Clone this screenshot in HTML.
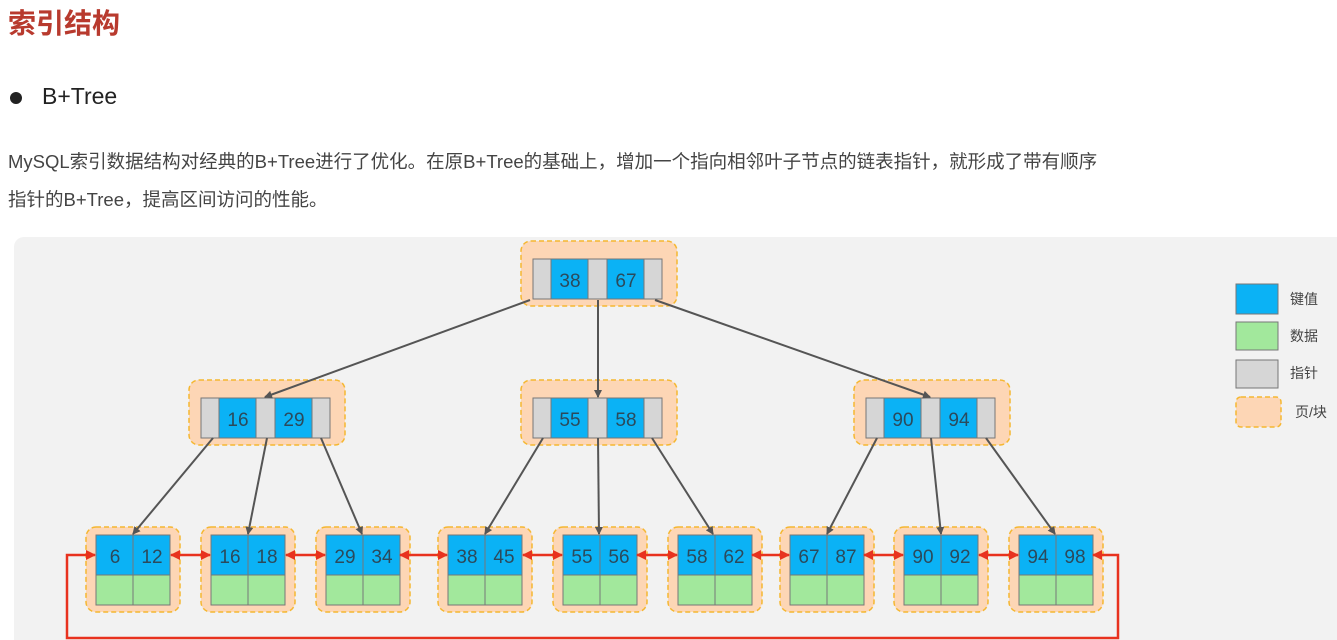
<!DOCTYPE html>
<html><head><meta charset="utf-8"><style>
body{margin:0;width:1337px;height:640px;overflow:hidden;background:#fff;font-family:"Liberation Sans","Noto Sans CJK SC",sans-serif;position:relative}
.t{position:absolute;left:8px;top:2px;font-size:28px;font-weight:bold;color:#b83a2e;}
.b{position:absolute;left:10px;top:92px;width:12px;height:12px;border-radius:50%;background:#222}
.bt{position:absolute;left:42px;top:83px;font-size:23px;color:#222}
.p{position:absolute;left:8px;top:143px;font-size:18.5px;color:#444;line-height:38px;width:1320px}
svg{position:absolute;left:0;top:0}
</style></head><body>
<div class="t">索引结构</div>
<div class="b"></div><div class="bt">B+Tree</div>
<div class="p">MySQL索引数据结构对经典的B+Tree进行了优化。在原B+Tree的基础上，增加一个指向相邻叶子节点的链表指针，就形成了带有顺序<br>指针的B+Tree，提高区间访问的性能。</div>
<svg width="1337" height="640" font-family="Liberation Sans, sans-serif">
<defs>
<marker id="ga" markerWidth="8" markerHeight="8" refX="7" refY="4" orient="auto" markerUnits="userSpaceOnUse"><path d="M0,0 L8,4 L0,8 z" fill="#555"/></marker>
<marker id="ra" markerWidth="10" markerHeight="10" refX="9" refY="5" orient="auto-start-reverse" markerUnits="userSpaceOnUse"><path d="M0,0 L10,5 L0,10 z" fill="#e8321e"/></marker>
<g id="inner"><rect x="-12" y="-18" width="156" height="65" rx="10" fill="#fdd6b5" stroke="#f5b731" stroke-width="1.5" stroke-dasharray="5,3"/>
<rect x="0" y="0" width="18" height="40" fill="#d6d6d6" stroke="#777"/><rect x="18" y="0" width="37" height="40" fill="#0bb2f5" stroke="#777"/><rect x="55" y="0" width="19" height="40" fill="#d6d6d6" stroke="#777"/><rect x="74" y="0" width="37" height="40" fill="#0bb2f5" stroke="#777"/><rect x="111" y="0" width="18" height="40" fill="#d6d6d6" stroke="#777"/></g>
<g id="leaf"><rect x="-10" y="-8" width="94" height="85" rx="10" fill="#fdd6b5" stroke="#f5b731" stroke-width="1.5" stroke-dasharray="5,3"/>
<rect x="0" y="0" width="37" height="40" fill="#0bb2f5" stroke="#777"/><rect x="37" y="0" width="37" height="40" fill="#0bb2f5" stroke="#777"/><rect x="0" y="40" width="37" height="30" fill="#a2e89c" stroke="#777"/><rect x="37" y="40" width="37" height="30" fill="#a2e89c" stroke="#777"/></g>
</defs>
<rect x="14" y="237" width="1340" height="420" rx="10" fill="#f2f2f2"/>
<use href="#inner" x="533" y="259"/>
<use href="#inner" x="201" y="398"/>
<use href="#inner" x="533" y="398"/>
<use href="#inner" x="866" y="398"/>
<use href="#leaf" x="96" y="535"/><use href="#leaf" x="211" y="535"/><use href="#leaf" x="326" y="535"/><use href="#leaf" x="448" y="535"/><use href="#leaf" x="563" y="535"/><use href="#leaf" x="678" y="535"/><use href="#leaf" x="790" y="535"/><use href="#leaf" x="904" y="535"/><use href="#leaf" x="1019" y="535"/>
<g stroke="#555" stroke-width="2" marker-end="url(#ga)">
<line x1="530" y1="300" x2="265" y2="397"/><line x1="598" y1="300" x2="598" y2="397"/><line x1="655" y1="300" x2="930" y2="397"/>
<line x1="213" y1="438" x2="133" y2="534"/><line x1="267" y1="438" x2="248" y2="534"/><line x1="321" y1="438" x2="362" y2="534"/>
<line x1="543" y1="438" x2="485" y2="534"/><line x1="598" y1="438" x2="599" y2="534"/><line x1="652" y1="438" x2="713" y2="534"/>
<line x1="877" y1="438" x2="827" y2="534"/><line x1="931" y1="438" x2="941" y2="534"/><line x1="986" y1="438" x2="1055" y2="534"/>
</g>
<g stroke="#e8321e" stroke-width="2.5" marker-end="url(#ra)" marker-start="url(#ra)">
<line x1="171" y1="555" x2="210" y2="555"/><line x1="286" y1="555" x2="325" y2="555"/><line x1="400" y1="555" x2="447" y2="555"/><line x1="523" y1="555" x2="562" y2="555"/><line x1="637" y1="555" x2="677" y2="555"/><line x1="752" y1="555" x2="789" y2="555"/><line x1="864" y1="555" x2="903" y2="555"/><line x1="979" y1="555" x2="1018" y2="555"/>
</g>
<polyline points="1093,555 1118,555 1118,638 67,638 67,555 95,555" fill="none" stroke="#e8321e" stroke-width="2.5" marker-end="url(#ra)" marker-start="url(#ra)"/>
<g font-size="19" fill="#2b4a5c" text-anchor="middle">
<text x="570" y="287">38</text><text x="626" y="287">67</text>
<text x="238" y="426">16</text><text x="294" y="426">29</text>
<text x="570" y="426">55</text><text x="626" y="426">58</text>
<text x="903" y="426">90</text><text x="959" y="426">94</text>
<text x="115" y="563">6</text><text x="152" y="563">12</text>
<text x="230" y="563">16</text><text x="267" y="563">18</text>
<text x="345" y="563">29</text><text x="382" y="563">34</text>
<text x="467" y="563">38</text><text x="504" y="563">45</text>
<text x="582" y="563">55</text><text x="619" y="563">56</text>
<text x="697" y="563">58</text><text x="734" y="563">62</text>
<text x="809" y="563">67</text><text x="846" y="563">87</text>
<text x="923" y="563">90</text><text x="960" y="563">92</text>
<text x="1038" y="563">94</text><text x="1075" y="563">98</text>
</g>
<rect x="1236" y="284" width="42" height="30" fill="#0bb2f5" stroke="#777"/>
<rect x="1236" y="322" width="42" height="28" fill="#a2e89c" stroke="#777"/>
<rect x="1236" y="360" width="42" height="28" fill="#d6d6d6" stroke="#777"/>
<rect x="1236" y="397" width="45" height="30" rx="5" fill="#fdd6b5" stroke="#f5b731" stroke-width="1.5" stroke-dasharray="5,3"/>
<g font-size="14" fill="#444" font-family="Liberation Sans, Noto Sans CJK SC, sans-serif">
<text x="1290" y="304">键值</text><text x="1290" y="341">数据</text><text x="1290" y="378">指针</text><text x="1295" y="417">页/块</text>
</g>
</svg>
</body></html>
